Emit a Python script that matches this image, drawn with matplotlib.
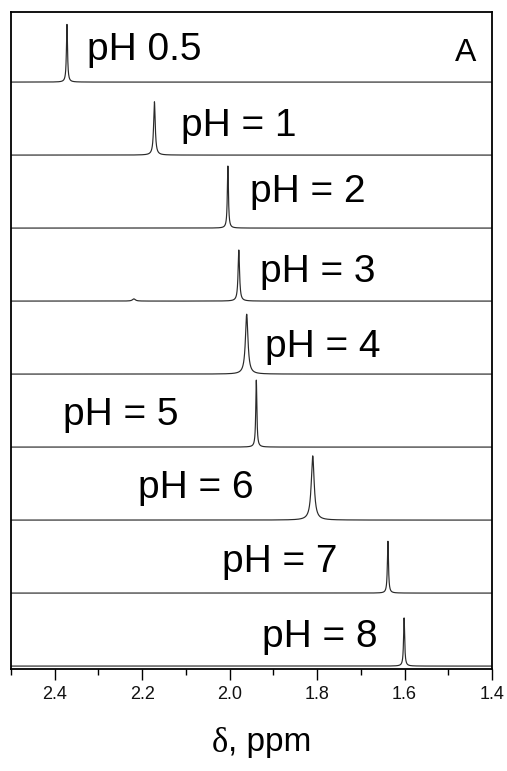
import numpy as np
import matplotlib
matplotlib.use("Agg")
import matplotlib.pyplot as plt
from matplotlib.ticker import MultipleLocator

plt.rcParams['font.family'] = ['Liberation Sans', 'DejaVu Sans']

# Data
labels = ["pH 0.5", "pH = 1", "pH = 2", "pH = 3", "pH = 4",
          "pH = 5", "pH = 6", "pH = 7", "pH = 8"]
peak_ppm = [2.372, 2.172, 2.004, 1.979, 1.961, 1.939, 1.810, 1.638, 1.601]
peak_height = [0.79, 0.73, 0.85, 0.70, 0.82, 0.92, 0.88, 0.71, 0.66]
peak_hwhm = [0.0015, 0.0022, 0.0015, 0.0020, 0.0035, 0.0015, 0.0040, 0.0015, 0.0015]
# minor signal seen in the pH 3 trace
minor_ppm = [None, None, None, 2.219, None, None, None, None, None]
minor_height = [0, 0, 0, 0.03, 0, 0, 0, 0, 0]

label_ppm = [2.326, 2.111, 1.953, 1.930, 1.919, 2.381, 2.209, 2.017, 1.926]
label_dy = [0.44, 0.40, 0.50, 0.40, 0.37, 0.44, 0.44, 0.42, 0.40]

xticks = [2.4, 2.2, 2.0, 1.8, 1.6, 1.4]

fig = plt.figure(figsize=(5.07, 7.71), dpi=100)
ax = fig.add_axes([11/507, 1 - 669/771, (492 - 11)/507, (669 - 12)/771])

x = np.linspace(2.5, 1.4, 6000)
n = len(labels)
for i in range(n):
    base = n - 1 - i
    w = peak_hwhm[i]
    y = peak_height[i] * w**2 / ((x - peak_ppm[i])**2 + w**2)
    if minor_ppm[i] is not None:
        wm = 0.004
        y = y + minor_height[i] * wm**2 / ((x - minor_ppm[i])**2 + wm**2)
    ax.plot(x, base + y, color='#2a2a2a', lw=0.85)
    ax.text(label_ppm[i], base + label_dy[i], labels[i], fontsize=28,
            ha='left', va='center', color='black')

ax.text(1.436, n - 1 + 0.40, "A", fontsize=23, ha='right', va='center')

ax.set_xlim(2.5, 1.4)
ax.set_ylim(-0.04, n - 1 + 0.96)
ax.set_yticks([])
ax.set_xticks(xticks)
ax.set_xticklabels([f"{t:.1f}" for t in xticks])
ax.xaxis.set_minor_locator(MultipleLocator(0.1))
ax.tick_params(axis='x', which='major', direction='out', length=8, width=1.0,
               labelsize=13, pad=4, labelcolor='#111111')
ax.tick_params(axis='x', which='minor', direction='out', length=4.5, width=1.0)
for s in ax.spines.values():
    s.set_linewidth(1.3)

# axis title: serif upright delta followed by sans ", ppm"
yl = 1 - 743/771
xs = 228/507
fig.text(xs, yl, "\u03b4", fontsize=25, family=['Liberation Serif', 'DejaVu Serif'],
         ha='right', va='center')
fig.text(xs, yl, ", ppm", fontsize=24, ha='left', va='center')

fig.savefig("out.png", dpi=100)
